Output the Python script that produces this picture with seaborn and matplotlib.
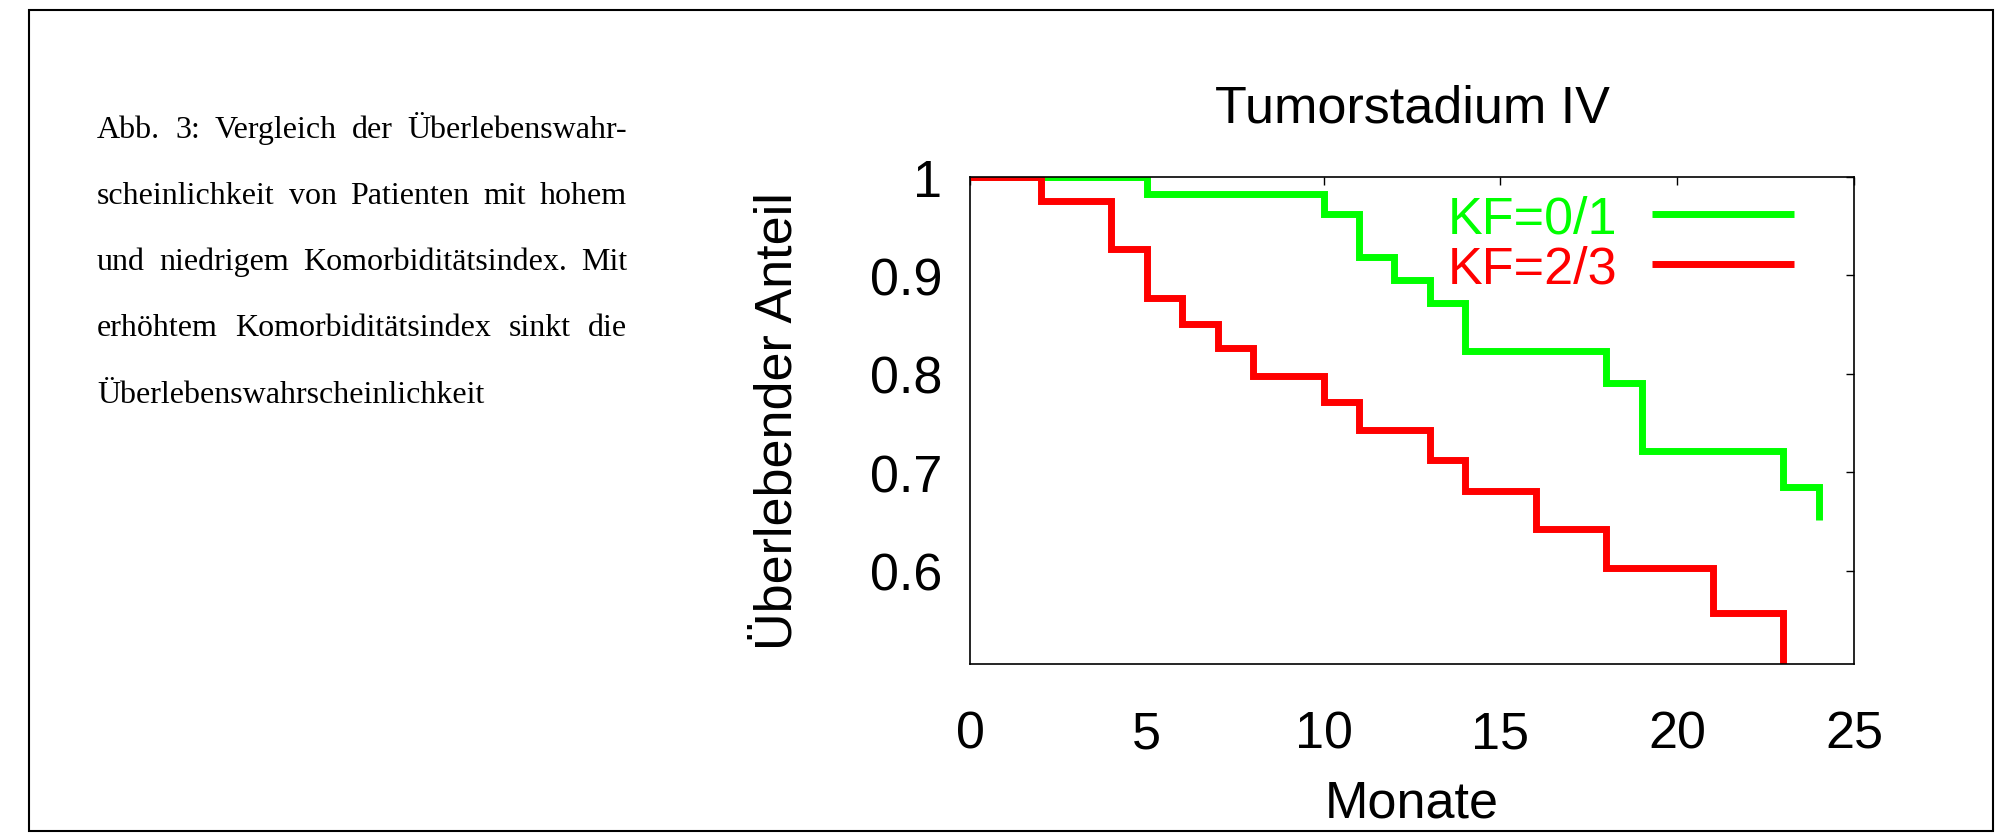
import numpy as np
import pandas as pd
import matplotlib
matplotlib.use("Agg")
import matplotlib.pyplot as plt
import seaborn as sns
from matplotlib.patches import Rectangle

# ---------------- data ----------------
months_low = [0, 5, 10, 11, 12, 13, 14, 18, 19, 23, 24]
surv_low = [1.0, 0.983, 0.962, 0.919, 0.895, 0.872, 0.823, 0.791, 0.722, 0.685, 0.651]
months_high = [0, 2, 4, 5, 6, 7, 8, 10, 11, 13, 14, 16, 18, 21, 23]
surv_high = [1.0, 0.976, 0.927, 0.877, 0.851, 0.826, 0.798, 0.771, 0.743, 0.712,
             0.681, 0.642, 0.603, 0.557, 0.50]
series_labels = ["KF=0/1", "KF=2/3"]
series_colors = ["#00ff00", "#ff0000"]
x_ticks = [0, 5, 10, 15, 20, 25]
y_ticks = [0.6, 0.7, 0.8, 0.9, 1.0]
y_tick_labels = ["0.6", "0.7", "0.8", "0.9", "1"]
title_text = "Tumorstadium IV"
x_label = "Monate"
y_label = "Überlebender Anteil"
caption_lines = [
    "Abb. 3: Vergleich der Überlebenswahr-",
    "scheinlichkeit von Patienten mit hohem",
    "und niedrigem Komorbiditätsindex. Mit",
    "erhöhtem Komorbiditätsindex sinkt die",
    "Überlebenswahrscheinlichkeit",
]

df = pd.concat([
    pd.DataFrame({"Monate": months_low, "Anteil": surv_low, "Gruppe": series_labels[0]}),
    pd.DataFrame({"Monate": months_high, "Anteil": surv_high, "Gruppe": series_labels[1]}),
], ignore_index=True)

# ---------------- style ----------------
sns.set_theme(style="white")
plt.rcParams["font.family"] = ["Liberation Sans", "DejaVu Sans"]

FS = 37.5
W, H, DPI = 1996, 837, 100
fig = plt.figure(figsize=(W / DPI, H / DPI), dpi=DPI)
fig.patch.set_facecolor("white")

ax = fig.add_axes([970 / W, 1 - 665 / H, (1854 - 970) / W, (665 - 178) / H])

sns.lineplot(data=df, x="Monate", y="Anteil", hue="Gruppe",
             hue_order=series_labels, palette=dict(zip(series_labels, series_colors)),
             drawstyle="steps-post", linewidth=5.0, ax=ax, legend=True,
             solid_joinstyle="miter", solid_capstyle="butt")

ax.set_xlim(0, 25)
ax.set_ylim(0.505, 1.0)
ax.set_xticks(x_ticks)
ax.set_xticklabels([str(t) for t in x_ticks])
ax.set_yticks(y_ticks)
ax.set_yticklabels(y_tick_labels)
ax.tick_params(axis="both", direction="in", length=5.8, width=1.0, color="black",
               top=True, right=True, labelsize=FS, labelcolor="black")
ax.tick_params(axis="y", pad=20)
ax.tick_params(axis="x", pad=33)
for sp in ax.spines.values():
    sp.set_visible(True)
    sp.set_color("black")
    sp.set_linewidth(1.2)

ax.set_title(title_text, fontsize=FS, pad=40, color="black")
ax.set_xlabel(x_label, fontsize=FS, color="black")
ax.set_ylabel(y_label, fontsize=FS, color="black")
ax.xaxis.set_label_coords(0.5, -0.236)
ax.yaxis.set_label_coords(-0.190, 0.5)

handles, labels = ax.get_legend_handles_labels()
ax.legend(handles, labels, loc="upper left",
          bbox_to_anchor=(1448 / W, 1 - 195 / H), bbox_transform=fig.transFigure,
          frameon=False, markerfirst=False, labelcolor="linecolor", fontsize=FS,
          handlelength=2.72, handletextpad=0.66, labelspacing=0.03,
          borderpad=0, borderaxespad=0)

# ---------------- outer frame ----------------
fig.patches.append(Rectangle((29 / W, 1 - 832 / H), (1993 - 29) / W, (832 - 11) / H,
                             transform=fig.transFigure, fill=False,
                             edgecolor="black", linewidth=1.5))

# ---------------- justified caption ----------------
renderer = fig.canvas.get_renderer()
cap_left, cap_right = 97, 627
baselines = [138, 204, 270, 336, 403]
CFS = 23
cap_font = dict(family=["Liberation Serif", "DejaVu Serif"], fontsize=CFS, color="black")
for i, line in enumerate(caption_lines):
    words = line.split(" ")
    texts = [fig.text(0, 1 - baselines[i] / H, w, ha="left", va="baseline", **cap_font)
             for w in words]
    widths = [t.get_window_extent(renderer).width for t in texts]
    if i < len(caption_lines) - 1 and len(words) > 1:
        gap = (cap_right - cap_left - sum(widths)) / (len(words) - 1)
    else:
        gap = 0.25 * CFS * DPI / 72
    x = cap_left
    for t, w in zip(texts, widths):
        t.set_x(x / W)
        x += w + gap

fig.savefig("out.png", dpi=DPI, facecolor="white")
